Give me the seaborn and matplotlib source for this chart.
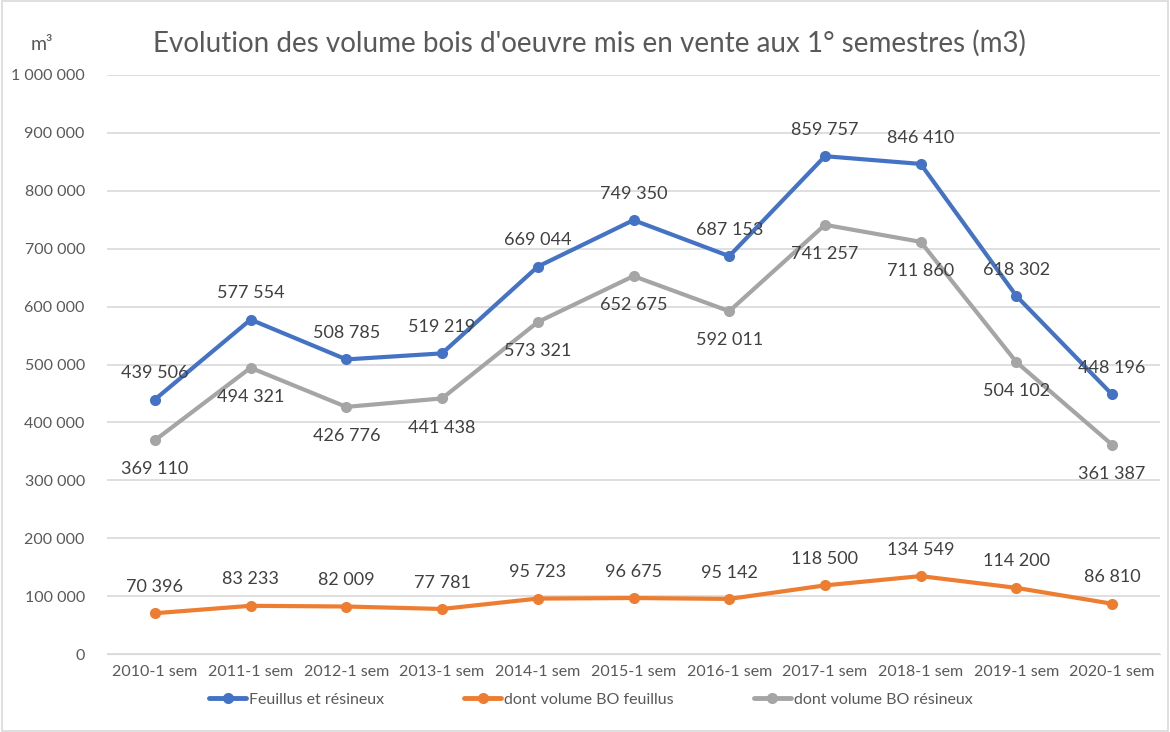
import pandas as pd
import numpy as np
import matplotlib
matplotlib.use("Agg")
import matplotlib.pyplot as plt
import seaborn as sns
from matplotlib.patches import Rectangle

# Données
semestres = ['2010-1 sem', '2011-1 sem', '2012-1 sem', '2013-1 sem', '2014-1 sem', '2015-1 sem',
             '2016-1 sem', '2017-1 sem', '2018-1 sem', '2019-1 sem', '2020-1 sem']
total = [439506, 577554, 508785, 519219, 669044, 749350, 687153, 859757, 846410, 618302, 448196]
feuillus = [70396, 83233, 82009, 77781, 95723, 96675, 95142, 118500, 134549, 114200, 86810]
resineux = [369110, 494321, 426776, 441438, 573321, 652675, 592011, 741257, 711860, 504102, 361387]
series = ['Feuillus et résineux', 'dont volume BO feuillus', 'dont volume BO résineux']
couleurs = ['#4472C4', '#ED7D31', '#A5A5A5']

def fmt(v):
    return f"{v:,.0f}".replace(",", " ")

sns.set_style("white")
plt.rcParams['font.family'] = ['Lato', 'DejaVu Sans']

df = pd.DataFrame({
    'semestre': semestres * 3,
    'volume': total + feuillus + resineux,
    'serie': [series[0]] * 11 + [series[1]] * 11 + [series[2]] * 11,
})

fig = plt.figure(figsize=(11.7, 7.32), dpi=100)
ax = fig.add_axes([107 / 1170, 1 - 654 / 732, (1160 - 107) / 1170, (654 - 75) / 732])

sns.lineplot(data=df, x='semestre', y='volume', hue='serie', hue_order=series,
             palette=couleurs, marker='o', markersize=8, markeredgewidth=0,
             linewidth=3, ax=ax, legend=False, sort=False, zorder=3)

ax.set_xlim(-0.5, 10.5)
ax.set_ylim(0, 1000000)
ax.set_yticks(np.arange(0, 1000001, 100000))
ax.set_yticklabels([fmt(v) for v in np.arange(0, 1000001, 100000)])
ax.set_xlabel('')
ax.set_ylabel('')
ax.grid(axis='y', color='#D9D9D9', linewidth=1.2)
ax.set_axisbelow(True)
for s in ['left', 'right', 'top']:
    ax.spines[s].set_visible(False)
ax.spines['bottom'].set_color('#D9D9D9')
ax.tick_params(axis='both', length=0, labelsize=11.5, colors='#595959')
ax.tick_params(axis='y', pad=16)
ax.tick_params(axis='x', pad=8)

# Étiquettes de données
for vals, dy in [(total, 19), (feuillus, 19), (resineux, -21)]:
    for i, v in enumerate(vals):
        ax.annotate(fmt(v), (i, v), xytext=(0, dy), textcoords='offset points',
                    ha='center', va='center', fontsize=13, color='#404040')

fig.text(589 / 1170, 1 - 43 / 732, "Evolution des volume bois d'oeuvre mis en vente aux 1° semestres (m3)",
         ha='center', va='center', fontsize=20, color='#595959')
fig.text(42 / 1170, 1 - 45 / 732, 'm³', ha='center', va='center', fontsize=14, color='#595959')

handles = [plt.Line2D([], [], color=c, marker='o', markersize=8, linewidth=3.5, markeredgewidth=0)
           for c in couleurs]
fig.legend(handles, series, loc='center', bbox_to_anchor=(591 / 1170, 1 - 700 / 732), ncol=3,
           frameon=False, fontsize=11.5, labelcolor='#595959', handlelength=2.3,
           handletextpad=0.2, columnspacing=5.0)

fig.add_artist(Rectangle((0.002, 0.002), 0.996, 0.996, transform=fig.transFigure,
                         fill=False, edgecolor='#D9D9D9', linewidth=1.2))

fig.savefig('out.png', dpi=100)
